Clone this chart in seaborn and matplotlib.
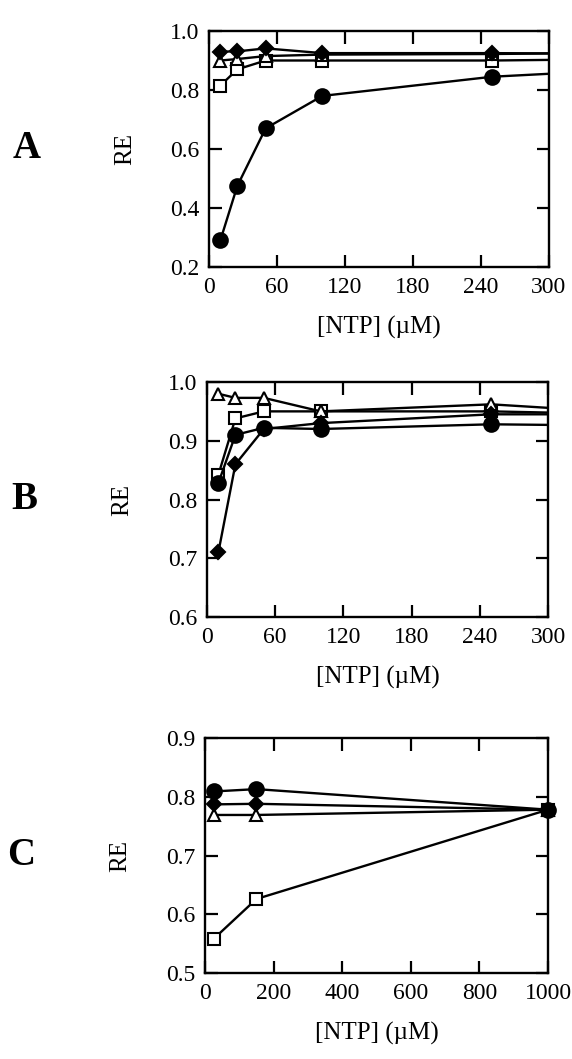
import matplotlib
matplotlib.use('Agg')
import matplotlib.pyplot as plt
from matplotlib.ticker import FormatStrFormatter
import seaborn as sns

# panel A  (last x is only where the lines run off the right edge)
a_x = [10, 25, 50, 100, 250, 300]
a_square = [0.815, 0.87, 0.90, 0.90, 0.90, 0.902]
a_triangle = [0.90, 0.905, 0.915, 0.92, 0.922, 0.924]
a_diamond = [0.93, 0.931, 0.941, 0.925, 0.925, 0.924]
a_circle = [0.29, 0.475, 0.67, 0.78, 0.845, 0.855]

# panel B
b_x = [10, 25, 50, 100, 250, 300]
b_square = [0.842, 0.938, 0.95, 0.95, 0.95, 0.948]
b_triangle = [0.98, 0.973, 0.973, 0.95, 0.962, 0.956]
b_diamond = [0.71, 0.86, 0.92, 0.93, 0.945, 0.945]
b_circle = [0.828, 0.91, 0.922, 0.92, 0.928, 0.927]

# panel C
c_x = [25, 150, 1000]
c_square = [0.558, 0.626, 0.778]
c_triangle = [0.769, 0.769, 0.778]
c_diamond = [0.787, 0.788, 0.778]
c_circle = [0.809, 0.813, 0.778]

a_xticks = [0, 60, 120, 180, 240, 300]
a_yticks = [0.2, 0.4, 0.6, 0.8, 1.0]
b_xticks = [0, 60, 120, 180, 240, 300]
b_yticks = [0.6, 0.7, 0.8, 0.9, 1.0]
c_xticks = [0, 200, 400, 600, 800, 1000]
c_yticks = [0.5, 0.6, 0.7, 0.8, 0.9]

sns.set_style('ticks')
plt.rcParams['font.family'] = ['Liberation Serif', 'DejaVu Serif']
for k in ['text.color', 'axes.labelcolor', 'xtick.color', 'ytick.color']:
    plt.rcParams[k] = 'black'

W, H = 572, 1059
fig = plt.figure(figsize=(W / 100, H / 100), dpi=100)


def px_axes(left, top, right, bottom):
    return fig.add_axes([left / W, 1 - bottom / H, (right - left) / W, (bottom - top) / H])


def draw(ax, x, sq, tri, dia, circ, xticks, yticks, letter, n_marked, clip=True):
    styles = [
        (sq, 's', 'white', 9),
        (tri, '^', 'white', 9),
        (dia, 'D', 'black', 7.5),
        (circ, 'o', 'black', 10.5),
    ]
    for y, m, fc, ms in styles:
        sns.lineplot(x=x, y=y, ax=ax, color='black', lw=1.7, marker=m,
                     markersize=ms, markerfacecolor=fc, markeredgecolor='black',
                     markeredgewidth=1.5, markevery=list(range(n_marked)),
                     clip_on=clip)
    ax.set_xlim(xticks[0], xticks[-1])
    ax.set_ylim(yticks[0], yticks[-1])
    ax.set_xticks(xticks)
    ax.set_yticks(yticks)
    ax.yaxis.set_major_formatter(FormatStrFormatter('%.1f'))
    ax.tick_params(direction='in', top=True, right=True, length=9, width=1.6,
                   labelsize=17, pad=7)
    for s in ax.spines.values():
        s.set_linewidth(1.7)
        s.set_color('black')
    ax.set_xlabel('[NTP] (\u00b5M)', fontsize=18, labelpad=13)
    ax.set_ylabel('RE', fontsize=18)
    ax.yaxis.set_label_coords(-0.215, 0.5)
    ax.text(-0.535, 0.5, letter, transform=ax.transAxes, ha='center', va='center',
            fontsize=28, fontweight='bold')


ax_a = px_axes(209, 31, 549, 267)
ax_b = px_axes(207, 382, 548, 617)
ax_c = px_axes(205, 738, 548, 973)

draw(ax_a, a_x, a_square, a_triangle, a_diamond, a_circle, a_xticks, a_yticks, 'A', 5)
draw(ax_b, b_x, b_square, b_triangle, b_diamond, b_circle, b_xticks, b_yticks, 'B', 5)
draw(ax_c, c_x, c_square, c_triangle, c_diamond, c_circle, c_xticks, c_yticks, 'C', 3, clip=False)

fig.savefig('out.png', dpi=100)
